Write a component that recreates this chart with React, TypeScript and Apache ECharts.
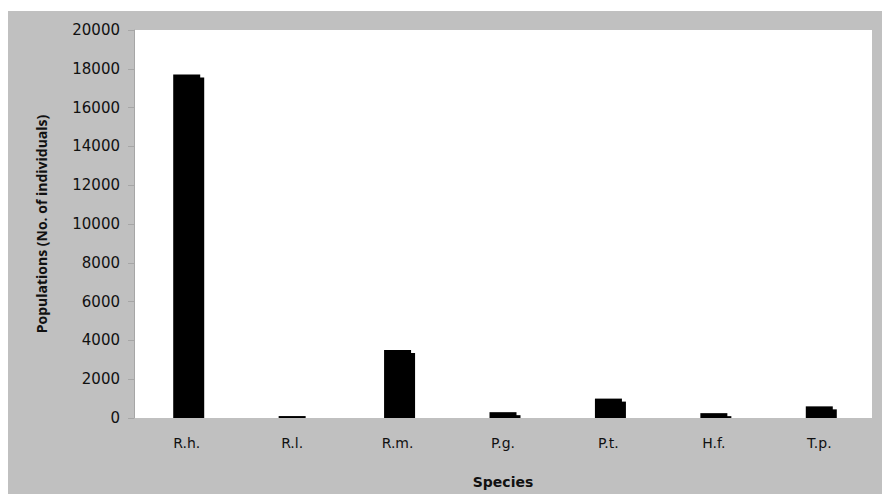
import React, { useEffect, useRef } from "react";
import * as echarts from "echarts";

const categories = ["R.h.", "R.l.", "R.m.", "P.g.", "P.t.", "H.f.", "T.p."];
const populations = [17700, 100, 3500, 300, 1000, 250, 600];
const yTitle = "Populations (No. of individuals)";
const xTitle = "Species";

export default function App() {
  const ref = useRef<HTMLDivElement>(null);
  useEffect(() => {
    const chart = echarts.init(ref.current!, null, { renderer: "svg" });
    chart.setOption({
      animation: false,
      backgroundColor: "#ffffff",
      graphic: [
        {
          type: "rect",
          z: -10,
          silent: true,
          shape: { x: 8, y: 11, width: 874, height: 483 },
          style: { fill: "#c0c0c0" },
        },
        {
          type: "rect",
          z: 5,
          silent: true,
          shape: { x: 8, y: 418, width: 874, height: 76 },
          style: { fill: "#c0c0c0" },
        },
      ],
      grid: {
        show: true,
        left: 134,
        top: 30,
        right: 10,
        bottom: 76,
        outerBoundsMode: "none",
        containLabel: false,
        backgroundColor: "#ffffff",
        borderWidth: 0,
      },
      xAxis: {
        type: "category",
        z: 10,
        data: categories,
        name: xTitle,
        nameLocation: "middle",
        nameGap: 57,
        nameTextStyle: { fontFamily: "DejaVu Sans", fontWeight: "bold", fontSize: 14, color: "#111" },
        axisLine: { show: false },
        axisTick: { show: false },
        axisLabel: { fontFamily: "DejaVu Sans", fontSize: 14, color: "#111", margin: 18 },
      },
      yAxis: {
        type: "value",
        z: 10,
        min: 0,
        max: 20000,
        interval: 2000,
        name: yTitle,
        nameLocation: "middle",
        nameGap: 86,
        nameTextStyle: { fontFamily: "Open Sans", fontWeight: "bold", fontSize: 14, color: "#111" },
        axisLine: { show: true, lineStyle: { color: "#a6a6a6", width: 1 } },
        axisTick: { show: true, length: 6, lineStyle: { color: "#a6a6a6" } },
        axisLabel: {
          fontFamily: "DejaVu Sans",
          fontSize: 15,
          color: "#111",
          margin: 14,
          formatter: (v: number) => String(v),
        },
        splitLine: { show: false },
      },
      series: [
        {
          type: "bar",
          z: 2,
          data: populations,
          barWidth: 27,
          itemStyle: {
            color: "#000000",
            shadowColor: "#000000",
            shadowBlur: 0,
            shadowOffsetX: 4,
            shadowOffsetY: 3,
          },
        },
      ],
    });
    return () => chart.dispose();
  }, []);
  return (
    <div
      ref={ref}
      style={{ position: "fixed", left: 0, top: 0, width: 882, height: 494 }}
    />
  );
}
